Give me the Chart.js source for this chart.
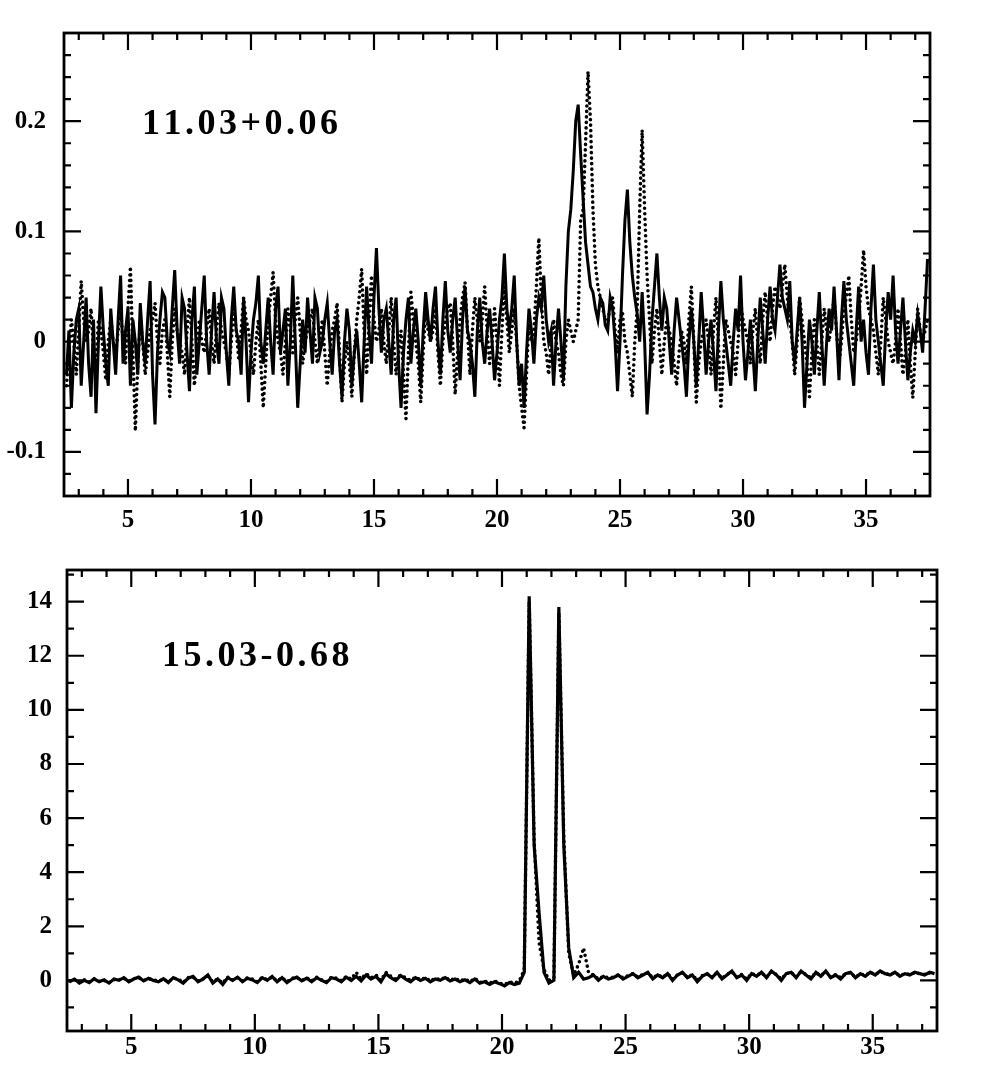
<!DOCTYPE html>
<html>
<head>
<meta charset="utf-8">
<title>Spectra 11.03+0.06 / 15.03-0.68</title>
<script src="https://cdn.jsdelivr.net/npm/chart.js@4.4.1/dist/chart.umd.min.js"></script>
<style>
  html, body { margin: 0; padding: 0; background: #fff; }
  canvas { position: absolute; left: 0; }
  #topChart { top: 0; }
  #bottomChart { top: 540px; }
</style>
</head>
<body>
<canvas id="topChart" width="989" height="540"></canvas>
<canvas id="bottomChart" width="989" height="547"></canvas>
<script>
// channel grids: the upper spectra are sampled twice as finely
const X_START = 2.5;
const TOP_STEP = 0.1;
const BOTTOM_STEP = 0.2;
const X_TICKS = [5, 10, 15, 20, 25, 30, 35];
const TOP_Y_TICKS = [-0.1, 0, 0.1, 0.2];
const BOTTOM_Y_TICKS = [0, 2, 4, 6, 8, 10, 12, 14];

// 11.03+0.06, solid spectrum (2.5 .. 37.5, step 0.1)
const topSolid = [
  -0.03, 0.01, -0.06, -0.01, 0.02, 0.03, -0.04, 0.0, 0.04, -0.02, -0.05, 0.02, -0.065, 0.0, 0.05, 0.01, -0.02, -0.04, 0.03, 0.0,
  -0.03, 0.02, 0.06, -0.02, 0.01, 0.03, -0.04, 0.02, 0.0, -0.03, 0.035, 0.0, -0.02, 0.02, 0.055, -0.03, -0.075, -0.01, 0.02, 0.045,
  0.04, 0.0, -0.01, 0.03, 0.065, 0.01, -0.02, 0.04, 0.03, -0.01, -0.045, 0.02, 0.05, -0.03, 0.0, 0.03, 0.06, 0.0, -0.03, 0.01,
  0.045, 0.0, -0.02, 0.04, 0.03, -0.01, -0.04, 0.02, 0.05, 0.01, 0.0, -0.03, 0.04, 0.0, -0.055, -0.01, 0.02, 0.035, 0.06, 0.0,
  -0.02, 0.01, 0.04, 0.0, -0.03, 0.03, 0.05, -0.01, 0.01, 0.03, -0.04, 0.0, 0.06, 0.0, -0.06, -0.02, 0.02, -0.01, 0.04, 0.01,
  -0.02, 0.04, 0.03, -0.01, 0.0, 0.02, 0.035, 0.0, -0.03, 0.01, 0.02, -0.02, -0.05, 0.0, 0.03, 0.01, -0.04, -0.01, 0.01, -0.02,
  -0.055, 0.0, 0.05, 0.01, -0.02, 0.04, 0.085, 0.03, -0.01, 0.02, 0.03, 0.0, -0.03, 0.02, 0.04, -0.02, -0.06, -0.01, 0.02, 0.04,
  -0.02, 0.01, 0.03, 0.0, -0.04, 0.01, 0.045, 0.02, 0.0, 0.03, 0.05, 0.0, -0.03, 0.02, 0.055, 0.01, -0.01, 0.02, 0.04, 0.0,
  -0.035, 0.02, 0.05, 0.01, 0.0, -0.02, -0.05, 0.01, 0.04, 0.0, -0.02, 0.01, 0.03, 0.0, -0.035, -0.01, 0.02, 0.04, 0.08, 0.03,
  0.01, 0.03, 0.06, 0.0, -0.04, -0.02, -0.06, -0.01, 0.03, 0.01, -0.02, 0.02, 0.04, 0.03, 0.06, 0.02, 0.0, 0.01, -0.04, 0.0,
  0.03, 0.0, -0.035, 0.05, 0.1, 0.12, 0.155, 0.2, 0.215, 0.17, 0.13, 0.09, 0.07, 0.05, 0.045, 0.03, 0.02, 0.04, 0.035, 0.015,
  0.01, 0.04, 0.03, 0.0, -0.045, 0.0, 0.06, 0.11, 0.138, 0.09, 0.06, 0.04, 0.025, 0.0, 0.045, 0.0, -0.066, -0.03, 0.02, 0.05,
  0.08, 0.04, 0.01, 0.04, 0.03, 0.0, -0.03, 0.01, 0.04, 0.02, 0.0, -0.02, -0.05, 0.0, 0.03, 0.0, -0.04, 0.0, 0.045, 0.01,
  -0.03, 0.0, 0.02, -0.01, -0.045, 0.01, 0.055, 0.02, 0.0, -0.02, -0.04, 0.0, 0.03, 0.01, 0.06, 0.0, -0.035, -0.01, 0.02, -0.01,
  -0.045, 0.0, 0.04, 0.01, -0.02, 0.02, 0.05, 0.02, 0.01, 0.04, 0.07, 0.04, 0.03, 0.02, 0.055, 0.0, -0.02, 0.01, 0.04, 0.0,
  -0.06, -0.02, 0.02, 0.0, -0.03, 0.01, 0.045, 0.0, -0.04, 0.0, 0.03, 0.01, 0.05, 0.01, -0.035, 0.02, 0.055, 0.02, 0.0, -0.02,
  -0.04, 0.01, 0.05, 0.0, 0.02, -0.01, -0.03, 0.03, 0.07, 0.02, 0.0, -0.02, -0.04, 0.01, 0.045, 0.02, 0.06, 0.01, -0.02, 0.01,
  0.04, 0.0, -0.035, -0.01, 0.01, 0.0, 0.025, 0.01, -0.01, 0.03, 0.075
];

// 11.03+0.06, dotted spectrum (2.5 .. 37.5, step 0.1)
const topDotted = [
  -0.04, -0.01, 0.02, 0.0, -0.03, 0.01, 0.055, 0.02, 0.0, 0.01, 0.03, -0.01, -0.02, 0.02, 0.01, -0.01, -0.035, 0.0, 0.02, 0.0,
  -0.01, 0.01, 0.03, 0.0, -0.02, 0.03, 0.068, -0.01, -0.081, -0.02, 0.02, 0.0, -0.03, -0.01, 0.01, 0.02, 0.035, 0.0, -0.02, 0.01,
  0.02, -0.01, -0.05, 0.0, 0.03, 0.01, 0.0, -0.01, -0.03, 0.01, 0.04, 0.0, -0.04, -0.01, 0.02, 0.0, -0.01, 0.01, 0.03, 0.0,
  -0.02, 0.01, 0.035, 0.01, 0.0, -0.01, -0.03, 0.0, 0.03, 0.01, -0.015, 0.01, 0.04, 0.02, 0.01, -0.01, -0.03, 0.0, 0.02, -0.02,
  -0.06, -0.02, 0.02, 0.04, 0.063, 0.02, 0.0, -0.01, -0.03, 0.0, 0.03, 0.01, -0.01, 0.02, 0.04, 0.01, -0.02, 0.0, 0.01, 0.02,
  0.03, 0.0, -0.02, 0.0, 0.02, -0.01, -0.04, -0.01, 0.01, 0.02, 0.035, -0.01, -0.055, -0.02, 0.0, -0.02, -0.05, -0.01, 0.02, 0.04,
  0.066, 0.01, -0.03, 0.02, 0.06, 0.02, 0.0, 0.01, 0.03, 0.0, -0.02, 0.01, 0.04, 0.0, -0.03, -0.01, 0.01, -0.03, -0.07, -0.01,
  0.045, 0.02, 0.0, -0.02, -0.055, -0.01, 0.03, 0.01, 0.0, 0.01, 0.03, -0.01, -0.04, 0.0, 0.02, 0.03, 0.035, 0.0, -0.048, -0.01,
  0.02, 0.04, 0.054, 0.01, -0.03, 0.01, 0.04, 0.02, 0.0, 0.02, 0.05, 0.01, -0.02, 0.0, 0.03, 0.0, -0.04, 0.01, 0.05, 0.02,
  -0.01, 0.01, 0.03, 0.0, -0.04, -0.06, -0.078, -0.03, 0.02, 0.0, 0.01, 0.05, 0.094, 0.04, 0.0, -0.01, -0.03, 0.0, 0.02, 0.0,
  -0.01, -0.03, -0.04, 0.0, 0.02, 0.01, 0.0, 0.01, 0.02, 0.11, 0.12, 0.18, 0.245, 0.2, 0.12, 0.07, 0.05, 0.04, 0.03, 0.02,
  0.02, 0.03, 0.04, 0.01, -0.01, 0.02, 0.027, 0.0, -0.01, -0.03, -0.05, 0.0, 0.03, 0.12, 0.192, 0.12, 0.06, 0.02, -0.02, 0.01,
  0.03, 0.0, -0.03, 0.0, 0.02, 0.01, 0.0, -0.02, -0.04, -0.01, 0.01, 0.0, -0.02, 0.02, 0.05, 0.0, -0.055, -0.02, 0.0, 0.01,
  0.02, 0.0, -0.03, 0.01, 0.04, 0.0, -0.061, -0.02, 0.02, 0.01, 0.0, -0.01, -0.03, 0.0, 0.035, 0.02, 0.01, 0.0, -0.02, 0.01,
  0.03, 0.0, -0.02, 0.02, 0.045, 0.02, 0.0, 0.03, 0.05, 0.04, 0.03, 0.05, 0.07, 0.04, 0.02, 0.0, -0.03, 0.0, 0.04, 0.02,
  0.0, -0.02, -0.05, -0.01, 0.02, 0.0, -0.03, 0.0, 0.03, 0.01, 0.0, 0.02, 0.04, 0.01, -0.02, 0.0, 0.03, 0.04, 0.06, 0.02,
  -0.01, 0.0, 0.02, 0.05, 0.083, 0.05, 0.03, 0.02, 0.01, -0.01, -0.03, 0.0, 0.04, 0.02, 0.0, -0.01, -0.02, 0.0, 0.03, 0.0,
  -0.03, -0.01, 0.02, -0.02, -0.051, -0.01, 0.03, 0.01, 0.0, 0.01, 0.02
];

// 15.03-0.68, solid spectrum (2.5 .. 37.5, step 0.2)
const bottomSolid = [
  -0.05, 0.05, -0.1, 0.0, -0.08, 0.06, -0.05, 0.02, -0.1, 0.05,
  0.0, 0.1, -0.05, 0.05, 0.12, -0.02, 0.08, 0.0, -0.05, 0.06,
  -0.08, 0.1, 0.02, -0.1, 0.08, 0.15, -0.05, 0.05, 0.2, -0.1,
  0.05, -0.15, 0.1, 0.0, 0.12, -0.05, 0.08, 0.02, -0.08, 0.1,
  0.0, 0.15, -0.05, 0.1, -0.08, 0.05, 0.12, -0.02, 0.08, -0.05,
  0.1, 0.0, -0.08, 0.1, 0.05, -0.05, 0.12, 0.0, 0.15, -0.02,
  0.2, 0.05, 0.15, -0.05, 0.25, 0.1, 0.0, 0.18, 0.05, -0.05,
  0.1, 0.0, 0.08, -0.05, 0.05, 0.0, 0.1, -0.02, 0.05, -0.05,
  0.02, -0.08, 0.05, -0.1, -0.05, -0.15, -0.05, -0.12, -0.2, -0.08,
  -0.15, -0.1, 0.3, 14.2, 5.0, 2.5, 0.3, -0.1, 0.0, 13.8,
  5.0, 1.2, 0.1, 0.3, 0.05, 0.1, 0.2, 0.0, 0.15, 0.05,
  0.1, 0.2, 0.05, 0.15, 0.25, 0.1, 0.2, 0.3, 0.05, 0.2,
  0.1, 0.25, 0.0, 0.2, 0.3, 0.1, 0.2, -0.05, 0.15, 0.25,
  0.1, 0.3, 0.05, 0.2, 0.35, 0.1, 0.2, 0.0, 0.25, 0.15,
  0.3, 0.1, 0.35, 0.2, 0.0, 0.25, 0.3, 0.1, 0.35, 0.2,
  0.05, 0.3, 0.15, 0.35, 0.1, 0.2, 0.05, 0.25, 0.3, 0.1,
  0.25, 0.15, 0.3, 0.2, 0.35, 0.25, 0.2, 0.3, 0.15, 0.25,
  0.2, 0.3, 0.25, 0.2, 0.3, 0.25
];

// 15.03-0.68, dotted spectrum (2.5 .. 37.5, step 0.2)
const bottomDotted = [
  -0.02, 0.03, -0.08, 0.02, -0.05, 0.05, -0.03, 0.0, -0.08, 0.03,
  0.02, 0.08, -0.03, 0.06, 0.1, 0.0, 0.06, 0.02, -0.03, 0.05,
  -0.05, 0.08, 0.05, -0.08, 0.1, 0.12, -0.02, 0.06, 0.15, -0.05,
  0.06, -0.1, 0.12, 0.02, 0.1, -0.02, 0.1, 0.05, -0.05, 0.12,
  0.02, 0.12, -0.02, 0.1, -0.05, 0.08, 0.1, 0.0, 0.1, -0.02,
  0.12, 0.02, -0.05, 0.12, 0.08, 0.0, 0.15, 0.05, 0.3, 0.05,
  0.25, 0.1, 0.2, 0.0, 0.3, 0.15, 0.05, 0.2, 0.1, 0.0,
  0.12, 0.02, 0.1, -0.02, 0.08, 0.02, 0.12, 0.0, 0.08, -0.02,
  0.05, -0.05, 0.08, -0.08, -0.02, -0.1, -0.02, -0.1, -0.15, -0.05,
  -0.1, -0.02, 0.4, 14.0, 5.2, 1.4, 0.4, 0.0, 0.1, 13.6,
  5.3, 1.0, 0.2, 0.6, 1.2, 0.3, 0.2, 0.05, 0.15, 0.1,
  0.12, 0.2, 0.1, 0.18, 0.25, 0.12, 0.22, 0.28, 0.1, 0.2,
  0.12, 0.25, 0.05, 0.2, 0.28, 0.12, 0.22, 0.0, 0.18, 0.25,
  0.12, 0.28, 0.08, 0.22, 0.32, 0.12, 0.22, 0.05, 0.25, 0.18,
  0.28, 0.12, 0.32, 0.22, 0.05, 0.25, 0.3, 0.12, 0.32, 0.22,
  0.1, 0.28, 0.18, 0.32, 0.12, 0.22, 0.1, 0.25, 0.28, 0.12,
  0.25, 0.18, 0.3, 0.22, 0.32, 0.25, 0.22, 0.28, 0.18, 0.25,
  0.22, 0.28, 0.25, 0.22, 0.28, 0.25
];

const SERIF = '"Liberation Serif", "DejaVu Serif", serif';

function toPoints(values, step) {
  return values.map((v, i) => ({ x: +(X_START + i * step).toFixed(2), y: v }));
}

function range(from, to, step) {
  const out = [];
  for (let v = from; v <= to + step / 2; v += step) out.push(+v.toFixed(4));
  return out;
}

// draw text one glyph at a time so the spacing works on any canvas
function drawSpaced(ctx, text, x, y, spacing) {
  for (const ch of text) {
    ctx.fillText(ch, x, y);
    x += ctx.measureText(ch).width + spacing;
  }
}

// Box round the plot, inward ticks on all four sides, panel name
const framePlugin = {
  id: 'frame',
  afterDatasetsDraw(chart, args, opts) {
    const { ctx, chartArea: a, scales: { x, y } } = chart;
    ctx.save();
    ctx.strokeStyle = '#000';
    ctx.lineWidth = 2.8;
    ctx.strokeRect(a.left, a.top, a.right - a.left, a.bottom - a.top);

    ctx.lineWidth = 2.2;
    ctx.beginPath();
    opts.xMinor.forEach(v => {
      const px = x.getPixelForValue(v);
      const len = X_TICKS.includes(v) ? 17 : 7;
      ctx.moveTo(px, a.bottom); ctx.lineTo(px, a.bottom - len);
      ctx.moveTo(px, a.top); ctx.lineTo(px, a.top + len);
    });
    opts.yMinor.forEach(v => {
      const py = y.getPixelForValue(v);
      const len = opts.yMajor.some(m => Math.abs(m - v) < 1e-6) ? 17 : 7;
      ctx.moveTo(a.left, py); ctx.lineTo(a.left + len, py);
      ctx.moveTo(a.right, py); ctx.lineTo(a.right - len, py);
    });
    ctx.stroke();

    ctx.fillStyle = '#000';
    ctx.font = 'bold 36px ' + SERIF;
    ctx.textBaseline = 'alphabetic';
    ctx.textAlign = 'left';
    drawSpaced(ctx, opts.title, opts.titleX, opts.titleY, 3.5);
    ctx.restore();
  }
};

function makeChart(id, cfg) {
  const ctx = document.getElementById(id).getContext('2d');
  return new Chart(ctx, {
    type: 'line',
    data: {
      datasets: [
        {
          label: 'solid',
          data: toPoints(cfg.solid, cfg.step),
          borderColor: '#000',
          borderWidth: cfg.solidWidth,
          pointRadius: 0,
          tension: 0,
          fill: false
        },
        {
          label: 'dotted',
          data: toPoints(cfg.dotted, cfg.step),
          borderColor: '#000',
          borderWidth: 3.6,
          borderDash: [0, 5.5],
          borderCapStyle: 'round',
          pointRadius: 0,
          tension: 0,
          fill: false
        }
      ]
    },
    options: {
      responsive: false,
      animation: false,
      layout: { padding: cfg.padding },
      plugins: {
        legend: { display: false },
        tooltip: { enabled: false },
        frame: {
          title: cfg.title,
          titleX: cfg.titleX,
          titleY: cfg.titleY,
          xMinor: range(3, 37, 1),
          yMinor: cfg.yMinor,
          yMajor: cfg.yTicks
        }
      },
      scales: {
        x: {
          type: 'linear',
          min: 2.4,
          max: 37.6,
          grid: { display: false, drawTicks: false },
          border: { display: false },
          afterBuildTicks: s => { s.ticks = X_TICKS.map(v => ({ value: v })); },
          afterFit: s => { s.height = cfg.xHeight; },
          ticks: {
            autoSkip: false,
            maxRotation: 0,
            padding: cfg.xPad,
            color: '#000',
            font: { family: SERIF, size: 25, weight: 'bold' },
            callback: v => String(v)
          }
        },
        y: {
          type: 'linear',
          min: cfg.yMin,
          max: cfg.yMax,
          grid: { display: false, drawTicks: false },
          border: { display: false },
          afterBuildTicks: s => { s.ticks = cfg.yTicks.map(v => ({ value: v })); },
          afterFit: s => { s.width = cfg.yWidth; },
          ticks: {
            padding: cfg.yPad,
            color: '#000',
            font: { family: SERIF, size: 25, weight: 'bold' },
            callback: v => String(+v.toFixed(2))
          }
        }
      }
    },
    plugins: [framePlugin]
  });
}

makeChart('topChart', {
  solid: topSolid,
  dotted: topDotted,
  step: TOP_STEP,
  solidWidth: 3,
  title: '11.03+0.06',
  titleX: 142,
  titleY: 134,
  yMin: -0.14,
  yMax: 0.28,
  yTicks: TOP_Y_TICKS,
  yMinor: range(-0.14, 0.28, 0.02),
  yWidth: 64,
  yPad: 18,
  xHeight: 44,
  xPad: 10,
  padding: { top: 28, right: 59, left: 0, bottom: 0 }
});

makeChart('bottomChart', {
  solid: bottomSolid,
  dotted: bottomDotted,
  step: BOTTOM_STEP,
  solidWidth: 3.2,
  title: '15.03-0.68',
  titleX: 162,
  titleY: 126,
  yMin: -1.87,
  yMax: 15.17,
  yTicks: BOTTOM_Y_TICKS,
  yMinor: range(-1, 15, 1),
  yWidth: 67,
  yPad: 15,
  xHeight: 56,
  xPad: 2,
  padding: { top: 26, right: 52, left: 0, bottom: 0 }
});
</script>
</body>
</html>
